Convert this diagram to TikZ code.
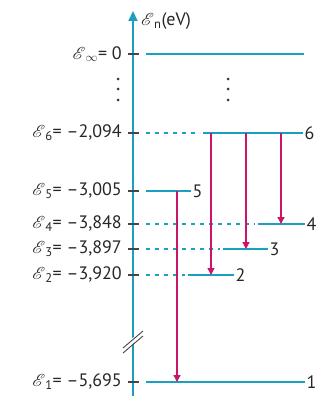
\documentclass[tikz,border=0pt]{standalone}
\usepackage{fontspec}
\usepackage{mathrsfs}
\setmainfont{PT Sans}
\usetikzlibrary{arrows.meta}
\definecolor{levelblue}{RGB}{27,160,192}
\definecolor{transred}{RGB}{204,20,104}
\definecolor{tickgray}{RGB}{70,70,70}
\newcommand{\En}{$\mathscr{E}$}
\tikzset{
  axis/.style={levelblue, line width=2.2pt, -{Triangle[length=10pt,width=9pt]}},
  level/.style={levelblue, line width=1.4pt},
  ghost/.style={levelblue, line width=1.4pt, dash pattern=on 4pt off 5pt},
  tickmark/.style={tickgray, line width=1.3pt},
  trans/.style={transred, line width=1.3pt, -{Triangle[length=7pt,width=7pt]}},
  lab/.style={anchor=east, inner sep=1pt, text=black!85, font=\fontsize{18}{21}\selectfont},
  num/.style={anchor=west, inner sep=1pt, text=black!85, font=\fontsize{18}{21}\selectfont},
}
\begin{document}
\begin{tikzpicture}[x=1pt,y=-1pt]
\useasboundingbox (0,0) rectangle (334,396);
% energy axis
\draw[axis] (133,396) -- (133,11);
\node[num] (ylab) at (140,21) {\En\textsubscript{n}(eV)};
% break on the axis
\fill[white] (122,347) -- (141,331) -- (141,337) -- (122,353) -- cycle;
\draw[tickgray, line width=0.9pt] (123,348) -- (143,331) (123,353) -- (143,336);
% ticks
\foreach \y in {54,133,191,224,249,275,382}
  \draw[tickmark] (128,\y) -- (139,\y);
% levels
\draw[level] (146,54) -- (304,54);
\draw[ghost] (146,133) -- (200,133);
\draw[level] (203,133) -- (303,133) node[num] (n6) {6};
\draw[level] (146,191) -- (191,191) node[num] (n5) {5};
\draw[ghost] (146,224) -- (255,224);
\draw[level] (258,224) -- (305,224) node[num] (n4) {4};
\draw[ghost] (146,249) -- (220,249);
\draw[level] (223,249) -- (268,249) node[num] (n3) {3};
\draw[ghost] (146,275) -- (185,275);
\draw[level] (188,275) -- (234,275) node[num] (n2) {2};
\draw[level] (146,382) -- (305,382) node[num] (n1) {1};
% values
\node[lab] (einf) at (123,54) {\En$_{\infty}$= 0};
\node[lab] (e6) at (123,133) {\En\textsubscript{6}= –2,094};
\node[lab] (e5) at (123,191) {\En\textsubscript{5}= –3,005};
\node[lab] (e4) at (123,224) {\En\textsubscript{4}= –3,848};
\node[lab] (e3) at (123,249) {\En\textsubscript{3}= –3,897};
\node[lab] (e2) at (123,275) {\En\textsubscript{2}= –3,920};
\node[lab] (e1) at (123,382) {\En\textsubscript{1}= –5,695};
% dots
\foreach \y in {79,89,100} {
  \fill[black!80] (118,\y) circle (1.5pt);
  \fill[black!80] (228,\y) circle (1.5pt);
}
% transitions
\coordinate (a5) at (177,191); \coordinate (b1) at (177,382);
\coordinate (a62) at (211,133); \coordinate (b2) at (211,275);
\coordinate (a63) at (246,133); \coordinate (b3) at (246,249);
\coordinate (a64) at (281,133); \coordinate (b4) at (281,224);
\draw[trans] (a5) -- (b1);
\draw[trans] (a62) -- (b2);
\draw[trans] (a63) -- (b3);
\draw[trans] (a64) -- (b4);
\end{tikzpicture}
\end{document}
